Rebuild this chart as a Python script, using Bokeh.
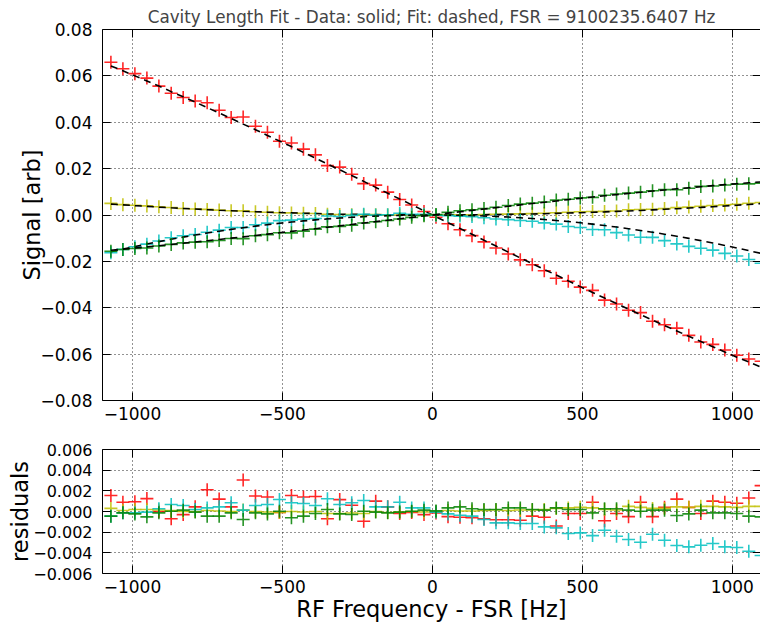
from bokeh.plotting import figure
from bokeh.layouts import column
from bokeh.models import Range1d, FixedTicker, CustomJSTickFormatter, LinearAxis
from bokeh.embed import file_html
from bokeh.resources import INLINE

TITLE = "Cavity Length Fit - Data: solid; Fit: dashed, FSR = 9100235.6407 Hz"
X_LABEL = "RF Frequency - FSR [Hz]"
Y_LABEL_TOP = "Signal [arb]"
Y_LABEL_BOT = "residuals"

x_ticks = [-1000, -500, 0, 500, 1000]
y_ticks_top = [-0.08, -0.06, -0.04, -0.02, 0.0, 0.02, 0.04, 0.06, 0.08]
y_ticks_bot = [-0.006, -0.004, -0.002, 0.0, 0.002, 0.004, 0.006]

x_freq = [-1072, -1032, -992, -952, -912, -871, -831, -791, -751, -711, -671, -631, -590, -550,
          -510, -470, -430, -390, -350, -309, -269, -229, -189, -149, -109, -69, -28,
          12, 52, 92, 132, 172, 212, 253, 293, 333, 373, 413, 453, 493, 534, 574, 614, 654,
          694, 734, 774, 815, 855, 895, 935, 975, 1015, 1055, 1096]

fit_red = [0.0643, 0.0622, 0.0600, 0.0578, 0.0556, 0.0532, 0.0510, 0.0487, 0.0463, 0.0440,
           0.0416, 0.0392, 0.0368, 0.0343, 0.0319, 0.0295, 0.0270, 0.0245, 0.0220, 0.0195,
           0.0170, 0.0145, 0.0119, 0.0094, 0.0069, 0.0044, 0.0018,
           -0.0008, -0.0033, -0.0058, -0.0083, -0.0109, -0.0134, -0.0160, -0.0185, -0.0210,
           -0.0235, -0.0259, -0.0284, -0.0309, -0.0334, -0.0358, -0.0382, -0.0406, -0.0430,
           -0.0453, -0.0477, -0.0500, -0.0523, -0.0546, -0.0568, -0.0591, -0.0613, -0.0634, -0.0656]
fit_yellow = [0.00471, 0.00437, 0.00403, 0.00372, 0.00341, 0.00311, 0.00283, 0.00257, 0.00231,
              0.00207, 0.00185, 0.00163, 0.00143, 0.00124, 0.00107, 0.00091, 0.00076, 0.00062,
              0.00050, 0.00039, 0.00030, 0.00021, 0.00015, 0.00009, 0.00005, 0.00002, 0.0,
              0.0, 0.00001, 0.00003, 0.00007, 0.00012, 0.00018, 0.00026, 0.00035, 0.00045,
              0.00057, 0.00070, 0.00084, 0.00100, 0.00117, 0.00135, 0.00155, 0.00175, 0.00197,
              0.00221, 0.00246, 0.00272, 0.00300, 0.00328, 0.00358, 0.00390, 0.00422, 0.00456, 0.00492]
fit_cyan = [-0.01586, -0.01470, -0.01358, -0.01251, -0.01148, -0.01047, -0.00953, -0.00863,
            -0.00778, -0.00698, -0.00621, -0.00550, -0.00480, -0.00417, -0.00359, -0.00305,
            -0.00255, -0.00210, -0.00169, -0.00132, -0.00100, -0.00072, -0.00049, -0.00031,
            -0.00016, -0.00007, -0.00001,
            0.0, -0.00004, -0.00012, -0.00024, -0.00041, -0.00062, -0.00088, -0.00118, -0.00153,
            -0.00192, -0.00235, -0.00283, -0.00335, -0.00394, -0.00455, -0.00520, -0.00590,
            -0.00665, -0.00744, -0.00827, -0.00917, -0.01009, -0.01105, -0.01206, -0.01312,
            -0.01422, -0.01536, -0.01658]
fit_green = [-0.01520, -0.01473, -0.01424, -0.01374, -0.01323, -0.01270, -0.01217, -0.01164,
             -0.01109, -0.01054, -0.00998, -0.00942, -0.00883, -0.00825, -0.00767, -0.00708,
             -0.00649, -0.00590, -0.00530, -0.00468, -0.00408, -0.00347, -0.00287, -0.00226,
             -0.00165, -0.00105, -0.00042,
             0.00018, 0.00079, 0.00139, 0.00198, 0.00258, 0.00317, 0.00377, 0.00436, 0.00493,
             0.00550, 0.00607, 0.00663, 0.00718, 0.00774, 0.00827, 0.00880, 0.00932, 0.00982,
             0.01032, 0.01081, 0.01130, 0.01176, 0.01221, 0.01265, 0.01308, 0.01349, 0.01389, 0.01428]

res_red = [0.00155, 0.0009, 0.00095, 0.00125, 0.0, -0.0007, -0.0003, 0.00045, 0.0021, 0.0012,
           0.00045, 0.00305, 0.0015, 0.0014, -0.0001, 0.00155, 0.0014, 0.00145, -0.0007, 0.00115,
           0.0006, -0.00095, 0.001, 0.00045, -0.0002, -0.0001, -0.0003,
           -0.00015, -0.0005, -0.00055, -0.0006, -0.0007, -0.0008, -0.0008, -0.00085, -0.00045,
           -0.00055, -0.0014, -0.0002, -0.0002, 0.0009, -0.0009, -0.0002, -0.0005, 0.0009,
           -0.0005, 0.0004, 0.0012, 0.0004, -0.0002, 0.001, 0.0009, 0.0008, 0.0013, 0.0025]
res_yellow = [0.0003, 0.0001, 0.0002, 0.0002, 0.00015, 0.0001, 0.0, 0.0, 0.0001, 0.00005, 0.0,
              0.00015, 0.0, -0.00005, -0.0001, 0.0, -0.00005, 0.0, -0.0002, -0.0002, -0.00015,
              -0.0002, 0.0, -0.0001, -0.00005, 0.0, -0.00005,
              0.0, 0.0001, 0.00005, 0.00005, 0.0001, 0.00015, 0.0001, 0.00015, 0.00015, 0.0002,
              0.0003, 0.00035, 0.0004, 0.00035, 0.0002, 0.00015, 0.0005, 0.0004, 0.0003, 0.0003,
              0.00045, 0.0004, 0.0005, 0.0005, 0.00045, 0.0004, 0.0005, 0.0005]
res_cyan = [-0.00045, -0.00013, -0.00013, -0.00006, 0.00026, 0.00068, 0.00058, 0.00019, 0.00035,
            0.00045, 0.00084, 0.00013, 0.00058, 0.00068, 0.00116, 0.00084, 0.00077, 0.00058,
            0.00123, 0.00068, 0.00084, 0.00107, 0.00045, 0.00045, 0.0009, 0.00035, 0.00035,
            -0.00006, -0.00023, -0.00036, -0.00045, -0.00077, -0.0011, -0.0011, -0.00116,
            -0.00116, -0.00149, -0.00158, -0.00213, -0.00207, -0.00233, -0.00181, -0.00239,
            -0.00271, -0.00297, -0.0022, -0.00278, -0.00329, -0.00342, -0.00326, -0.0031,
            -0.00342, -0.00349, -0.00384, -0.00426]
res_green = [-0.00045, -0.00013, -0.00023, -0.00052, -0.00013, 0.00003, 0.00013, -0.00006,
             -0.00045, -0.00045, -0.00013, -0.00078, -0.00013, -0.00023, 0.00003, -0.00061,
             -0.00045, -0.00019, 0.00019, -0.00023, -0.00029, 0.00003, -0.00006, -0.00013,
             -0.00006, 0.00003, 0.00013,
             0.00006, 0.00035, 0.00045, 0.00026, 0.00019, 0.00019, 0.00035, 0.00035, 0.00019,
             0.00013, 0.00035, 0.00019, 0.00019, -0.00013, 0.00026, 0.00026, 0.00013, 0.00003,
             0.00013, 0.00013, -0.00039, -0.00023, 0.00013, -0.00013, -0.00013, -0.00019,
             -0.00045, -0.00052]

series = [
    ("#ff0000", fit_red, res_red),
    ("#bfbf00", fit_yellow, res_yellow),
    ("#00bfbf", fit_cyan, res_cyan),
    ("#008000", fit_green, res_green),
]

FONT = "DejaVu Sans"
TICK_SIZE = "17px"
RES_TICK_SIZE = "16px"
LABEL_SIZE = "22.5px"
MINUS = "\u2212"


def fmt(digits):
    return CustomJSTickFormatter(code=(
        "var t = Math.abs(tick) < 1e-12 ? 0 : tick;"
        "return t.toFixed(%d).replace('-', '%s');" % (digits, MINUS)))


def style(ax, ticks, formatter, show_labels=True, size=TICK_SIZE):
    ax.ticker = FixedTicker(ticks=ticks)
    ax.minor_tick_line_color = None
    ax.major_tick_in = 8
    ax.major_tick_out = 0
    ax.major_tick_line_color = "black"
    ax.major_tick_line_width = 1
    ax.axis_line_color = "black"
    ax.axis_line_width = 1
    if show_labels:
        ax.formatter = formatter
        ax.major_label_text_font = FONT
        ax.major_label_text_font_size = size
        ax.major_label_text_color = "black"
    else:
        ax.formatter = CustomJSTickFormatter(code="return '';")
        ax.major_label_text_font_size = "0px"
        ax.major_label_standoff = 0


def make_fig(y_range, frame_h, top, bottom):
    p = figure(frame_width=658, frame_height=frame_h,
               x_range=Range1d(-1100, 1094), y_range=y_range,
               output_backend="svg", toolbar_location=None,
               min_border_left=102, min_border_right=0,
               min_border_top=top, min_border_bottom=bottom,
               background_fill_color="white", border_fill_color="white")
    p.outline_line_color = None
    p.grid.grid_line_color = "black"
    p.grid.grid_line_dash = "1 3"
    p.grid.grid_line_width = 1
    p.grid.grid_line_alpha = 0.85
    return p


p1 = make_fig(Range1d(-0.08, 0.08), 371, 29, 28)
p1.title.text = TITLE
p1.title.text_font = FONT
p1.title.text_font_size = "16.8px"
p1.title.text_font_style = "normal"
p1.title.align = "center"
p1.title.standoff = 6

p2 = make_fig(Range1d(-0.006, 0.006), 124, 21, 46)

axes = {}
for name, p, yticks, digits, ysize in (("top", p1, y_ticks_top, 2, TICK_SIZE),
                                        ("bot", p2, y_ticks_bot, 3, RES_TICK_SIZE)):
    bottom_ax = p.below[0]
    left_ax = p.left[0]
    style(bottom_ax, x_ticks, fmt(0))
    bottom_ax.major_label_standoff = 6
    style(left_ax, yticks, fmt(digits), size=ysize)
    left_ax.major_label_standoff = 10
    top_ax = LinearAxis()
    style(top_ax, x_ticks, None, show_labels=False)
    p.add_layout(top_ax, "above")
    right_ax = LinearAxis()
    style(right_ax, yticks, None, show_labels=False)
    p.add_layout(right_ax, "right")
    axes[name] = (bottom_ax, left_ax)

p1_left = axes["top"][1]
p2_bottom, p2_left = axes["bot"]
p1_left.axis_label = Y_LABEL_TOP
p1_left.axis_label_standoff = -8
p2_left.axis_label = Y_LABEL_BOT
p2_left.axis_label_standoff = -3
p2_bottom.axis_label = X_LABEL
p2_bottom.axis_label_standoff = 0
for ax in (p1_left, p2_left, p2_bottom):
    ax.axis_label_text_font = FONT
    ax.axis_label_text_font_size = LABEL_SIZE
    ax.axis_label_text_font_style = "normal"
    ax.axis_label_text_color = "black"

for color, fit, res in series:
    signal = [f + r for f, r in zip(fit, res)]
    p1.scatter(x_freq, signal, marker="cross", size=13, line_color=color,
               line_width=1.6, line_alpha=0.85)
    p1.line(x_freq, fit, line_color="black", line_width=1.6, line_dash="7 5")
    p2.scatter(x_freq, res, marker="cross", size=13, line_color=color,
               line_width=1.6, line_alpha=0.85)

layout = column(p1, p2, spacing=0)
open("out.html", "w").write(file_html(layout, INLINE))
